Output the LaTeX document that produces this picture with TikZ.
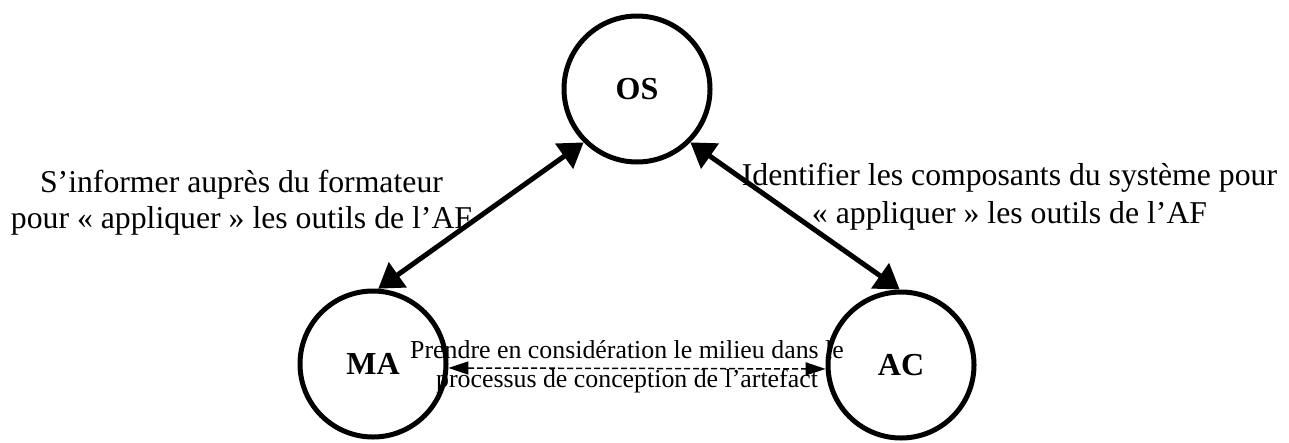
\documentclass[tikz,border=0pt]{standalone}
\usepackage{fontspec}
\setmainfont{Liberation Serif}
\usetikzlibrary{arrows.meta}
\tikzset{schema/.style={x=1pt,y=-1pt},
  pole/.style={circle,draw,line width=5pt,minimum size=146pt,inner sep=0pt,font=\fontsize{32}{38}\selectfont\bfseries},
  lien/.style={line width=5pt,{Triangle[length=24pt,width=30pt]}-{Triangle[length=24pt,width=30pt]}},
  lienpointille/.style={line width=1.5pt,dash pattern=on 6pt off 3pt,{Triangle[length=20pt,width=13pt]}-{Triangle[length=20pt,width=13pt]}},
  legende/.style={align=center,inner sep=0pt}}

\begin{document}
\begin{tikzpicture}[schema]
    \useasboundingbox (0,0) rectangle (1289,442);
    % textes des liens
    \node[legende,font=\fontsize{31.75}{36}\selectfont] (lgauche) at (241.5,202.6) {S’informer auprès du formateur\\pour « appliquer » les outils de l’AF};
    \node[legende,font=\fontsize{31.75}{38}\selectfont] (ldroite) at (1009.5,196.6) {Identifier les composants du système pour\\« appliquer » les outils de l’AF};
    \node[legende,font=\fontsize{25.85}{29}\selectfont] (lbas) at (627,367) {Prendre en considération le milieu dans le\\processus de conception de l’artefact};
    % les trois poles
    \node[pole] (OS) at (637,89) {OS};
    \node[pole] (MA) at (373,364) {MA};
    \node[pole] (AC) at (901,365) {AC};
    \draw[lien] (MA.86) -- (OS.225);
    \draw[lien] (OS.315) -- (AC.91);
    \draw[lienpointille] (MA.-3) -- (AC.183);
  \end{tikzpicture}
\end{document}
